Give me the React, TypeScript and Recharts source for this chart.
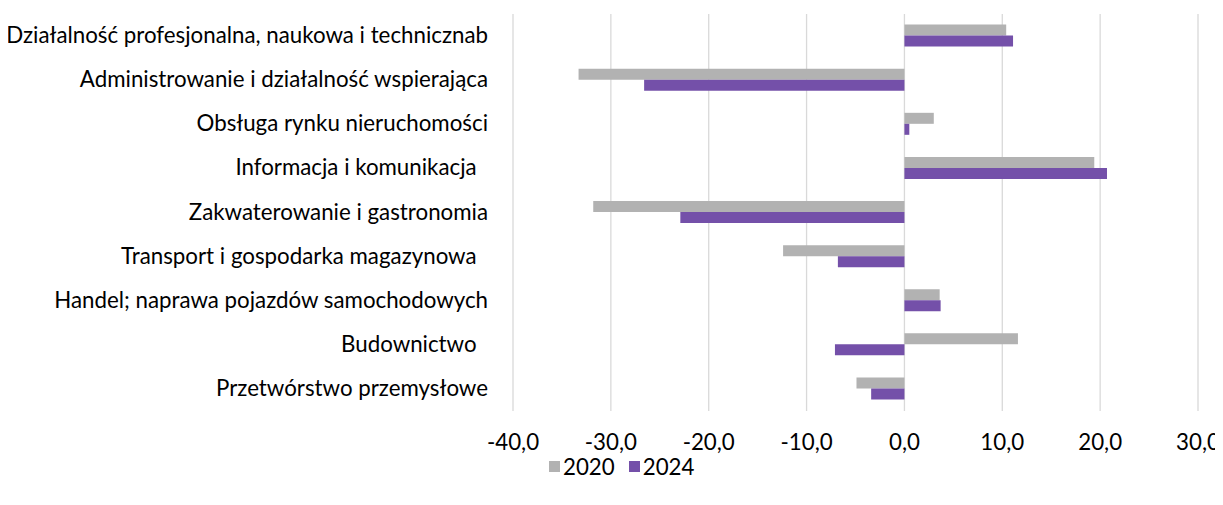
import { BarChart, Bar, XAxis, YAxis, CartesianGrid, Legend } from "recharts";

const categories = [
  "Działalność profesjonalna, naukowa i technicznab",
  "Administrowanie i działalność wspierająca",
  "Obsługa rynku nieruchomości",
  "Informacja i komunikacja  ",
  "Zakwaterowanie i gastronomia",
  "Transport i gospodarka magazynowa  ",
  "Handel; naprawa pojazdów samochodowych",
  "Budownictwo  ",
  "Przetwórstwo przemysłowe",
];
const values2020 = [10.4, -33.3, 3.0, 19.4, -31.8, -12.4, 3.6, 11.6, -4.9];
const values2024 = [11.1, -26.6, 0.5, 20.7, -22.9, -6.8, 3.7, -7.1, -3.4];
const xTicks = [-40, -30, -20, -10, 0, 10, 20, 30];

const COLORS = { y2020: "#b2b2b2", y2024: "#7450a9", grid: "#d9d9d9", text: "#000000" };
const FONT = "Lato, 'Open Sans', sans-serif";
const FS = 22.3;

const data = categories.map((name, i) => ({ name, y2020: values2020[i], y2024: values2024[i] }));

const fmt = (v: number) => v.toFixed(1).replace(".", ",");

function YTick({ x, y, payload }: any) {
  return (
    <text
      x={x - 23}
      y={y}
      dy={7}
      textAnchor="end"
      fill={COLORS.text}
      fontSize={FS}
      fontFamily={FONT}
      style={{ whiteSpace: "pre" }}
    >
      {payload.value}
    </text>
  );
}

function XTick({ x, y, payload }: any) {
  return (
    <text x={x} y={y + 37} textAnchor="middle" fill={COLORS.text} fontSize={FS} fontFamily={FONT}>
      {fmt(payload.value)}
    </text>
  );
}

function LegendContent() {
  const item = (color: string, label: string) => (
    <div style={{ display: "flex", alignItems: "center", marginRight: 14 }}>
      <div style={{ width: 11, height: 11, background: color, marginRight: 3 }} />
      <span style={{ fontSize: FS, fontFamily: FONT, color: COLORS.text }}>{label}</span>
    </div>
  );
  return (
    <div style={{ display: "flex", justifyContent: "flex-start", alignItems: "center", height: 30, paddingLeft: 549 }}>
      {item(COLORS.y2020, "2020")}
      {item(COLORS.y2024, "2024")}
    </div>
  );
}

export default function App() {
  return (
    <div style={{ margin: "-8px 0 0 -8px", width: 1223, height: 505 }}>
      <BarChart
        width={1223}
        height={505}
        data={data}
        layout="vertical"
        margin={{ top: 14, right: 25, bottom: 0, left: 0 }}
        barCategoryGap="24%"
        barGap={0}
      >
        <CartesianGrid horizontal={false} stroke={COLORS.grid} strokeWidth={1.3} />
        <XAxis
          type="number"
          domain={[-40, 30]}
          ticks={xTicks}
          axisLine={false}
          tickLine={false}
          tickSize={0}
          height={40}
          tick={<XTick />}
          interval={0}
        />
        <YAxis
          type="category"
          dataKey="name"
          width={513}
          axisLine={false}
          tickLine={false}
          tickSize={0}
          tick={<YTick />}
          interval={0}
        />
        <Legend verticalAlign="bottom" height={54} content={<LegendContent />} />
        <Bar dataKey="y2020" name="2020" fill={COLORS.y2020} isAnimationActive={false} />
        <Bar dataKey="y2024" name="2024" fill={COLORS.y2024} isAnimationActive={false} />
      </BarChart>
    </div>
  );
}
